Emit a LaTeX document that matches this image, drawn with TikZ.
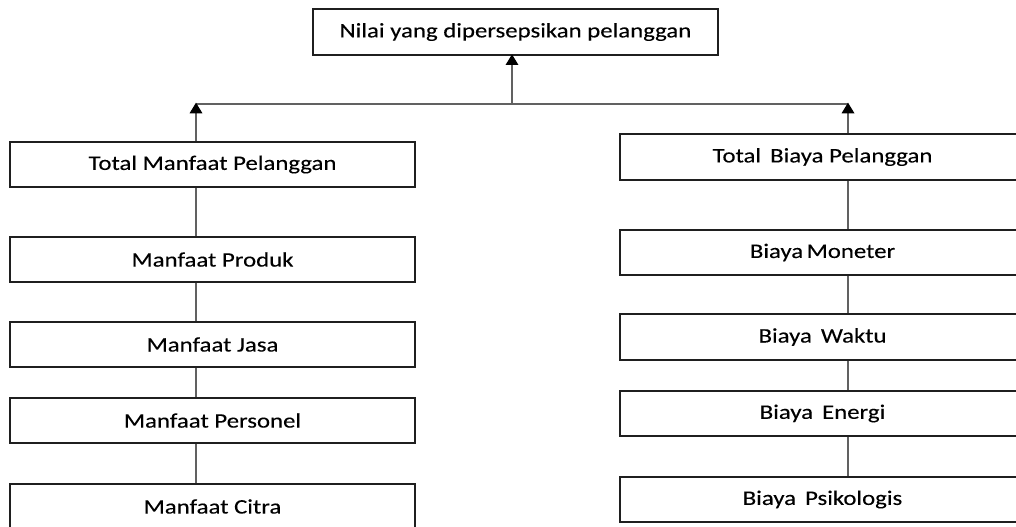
\documentclass[tikz,border=0pt]{standalone}
\usepackage{fontspec}
\setmainfont[FakeStretch=1.2,FakeBold=0.15]{Carlito}
\usetikzlibrary{arrows.meta}
\begin{document}
\begin{tikzpicture}[x=0.75pt,y=-0.75pt,
  box/.style={draw=black!88,line width=1.5pt,fill=white,minimum width=303.75pt,minimum height=34pt,inner sep=0pt,font=\fontsize{15.5}{17}\selectfont,text=black},
  conn/.style={draw=black!62,line width=0.9pt},
  arr/.style={conn,-{Triangle[width=9.5pt,length=8pt,fill=black,color=black]},shorten >=-1pt}]
\useasboundingbox (0,0) rectangle (1016,527);
\clip (0,0) rectangle (1016,527);
\node[box] (top) at (515.5,32) {Nilai yang dipersepsikan pelanggan};
\node[box] (l1) at (212.5,164.5) {Total Manfaat Pelanggan};
\node[box] (l2) at (212.5,259.5) {Manfaat Produk};
\node[box] (l3) at (212.5,344.5) {Manfaat Jasa};
\node[box] (l4) at (212.5,420.5) {Manfaat Personel};
\node[box] (l5) at (212.5,506.5) {Manfaat Citra};
\node[box] (r1) at (822.5,157) {Total\, Biaya Pelanggan};
\node[box] (r2) at (822.5,252.5) {Biaya\,Moneter};
\node[box] (r3) at (822.5,337) {Biaya\, Waktu};
\node[box] (r4) at (822.5,413.5) {Biaya\, Energi};
\node[box] (r5) at (822.5,499.5) {Biaya\, Psikologis};
\coordinate (jl) at (196,104);
\coordinate (jr) at (848,104);
\coordinate (jm) at (512,104);
\draw[conn] (jl) -- (jr);
\draw[arr] (jm) -- (top.south -| jm);
\draw[arr] (l1.north -| jl) -- (jl);
\draw[arr] (r1.north -| jr) -- (jr);
\foreach \a/\b in {l1/l2,l2/l3,l3/l4,l4/l5}
  \draw[conn] (\a.south -| jl) -- (\b.north -| jl);
\foreach \a/\b in {r1/r2,r2/r3,r3/r4,r4/r5}
  \draw[conn] (\a.south -| jr) -- (\b.north -| jr);
\end{tikzpicture}
\end{document}
